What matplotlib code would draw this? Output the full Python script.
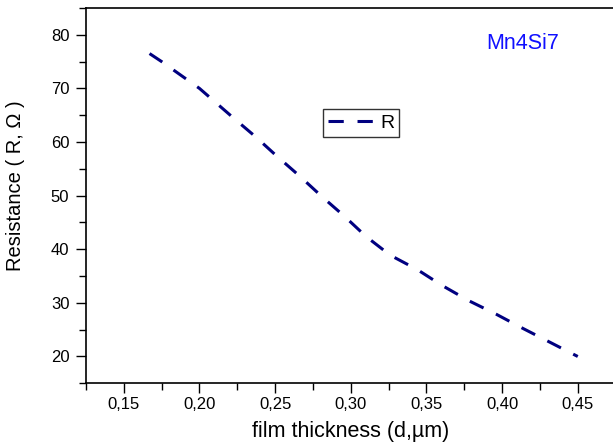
import matplotlib
matplotlib.use("Agg")
import matplotlib.pyplot as plt
from matplotlib.ticker import MultipleLocator

plt.rcParams['font.family'] = ['Liberation Sans', 'DejaVu Sans']

thickness = [0.167, 0.175, 0.200, 0.222, 0.237, 0.251, 0.266, 0.281, 0.296,
             0.310, 0.326, 0.344, 0.360, 0.378, 0.396, 0.414, 0.432, 0.450]
resistance = [76.5, 75.0, 70.0, 64.6, 61.0, 57.4, 53.7, 49.8, 46.1,
              42.4, 38.9, 36.2, 33.3, 30.4, 27.9, 25.2, 22.6, 20.0]

xtick_vals = [0.15, 0.20, 0.25, 0.30, 0.35, 0.40, 0.45]
xtick_labels = ["0,15", "0,20", "0,25", "0,30", "0,35", "0,40", "0,45"]
ytick_vals = [20, 30, 40, 50, 60, 70, 80]
ytick_labels = ["20", "30", "40", "50", "60", "70", "80"]

fig = plt.figure(figsize=(6.13, 4.48), dpi=100)
ax = fig.add_axes([86/613, 64.7/448, 529.6/613, 375.3/448])

ax.plot(thickness, resistance, color="#000080", lw=2.2, dashes=(5, 4.5),
        label="R")

ax.set_xlim(0.125, 0.475)
ax.set_ylim(15, 85)
ax.set_xticks(xtick_vals)
ax.set_xticklabels(xtick_labels)
ax.set_yticks(ytick_vals)
ax.set_yticklabels(ytick_labels)
ax.xaxis.set_minor_locator(MultipleLocator(0.025))
ax.yaxis.set_minor_locator(MultipleLocator(5))

ax.tick_params(axis='both', which='major', direction='out', length=7,
               width=1, labelsize=12, colors='black')
ax.tick_params(axis='x', which='major', pad=3)
ax.tick_params(axis='y', which='major', pad=5)
ax.tick_params(axis='both', which='minor', direction='out', length=5,
               width=1)
ax.tick_params(top=False, right=False)

for s in ax.spines.values():
    s.set_linewidth(1.2)

ax.set_xlabel("film thickness (d,\u00b5m)", fontsize=15.5, labelpad=6)
ax.set_ylabel("Resistance ( R, \u03a9 )", fontsize=14.5)
ax.yaxis.set_label_coords(-0.115, 0.527)

ax.text(0.755, 0.905, "Mn4Si7", transform=ax.transAxes, color="#1010ff",
        fontsize=15.5, ha='left', va='center')

leg = ax.legend(loc='center', bbox_to_anchor=(0.519, 0.6936), fontsize=14,
                frameon=True, fancybox=False, handlelength=2.4,
                handletextpad=0.3, borderpad=0.25, borderaxespad=0)
leg.get_frame().set_edgecolor('black')
leg.get_frame().set_linewidth(1.0)

fig.savefig("out.png", dpi=100)
